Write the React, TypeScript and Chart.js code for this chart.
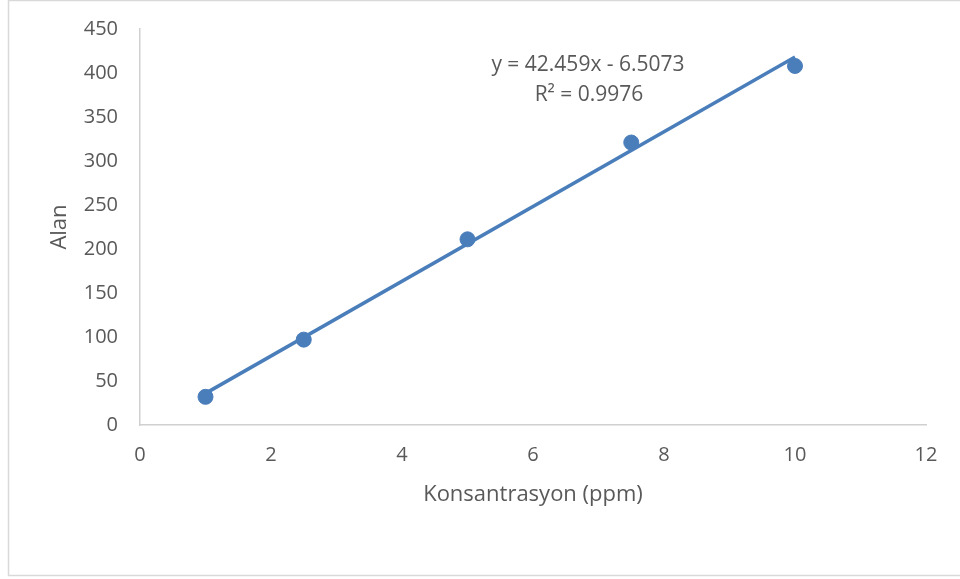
import React, { useEffect, useRef } from "react";
import { Chart, registerables } from "chart.js";

Chart.register(...registerables);

const concentrations = [1, 2.5, 5, 7.5, 10];
const areas = [32, 97, 211, 321, 408];
const trendX = [1, 10];
const trendY = [35.95, 418.08];
const equationLines = ["y = 42.459x - 6.5073", "R² = 0.9976"];
const xTitle = "Konsantrasyon (ppm)";
const yTitle = "Alan";

const FONT = "'Open Sans', 'Liberation Sans', sans-serif";
const TEXT = "#595959";
const BLUE = "#4a7ebb";

const overlay = {
  id: "overlay",
  beforeDraw(chart: any) {
    const { ctx } = chart;
    ctx.save();
    ctx.fillStyle = "#ffffff";
    ctx.fillRect(0, 0, chart.width, chart.height);
    ctx.strokeStyle = "#d9d9d9";
    ctx.lineWidth = 1.5;
    ctx.strokeRect(8.5, 0.5, chart.width + 10, 575);
    ctx.restore();
  },
  afterDraw(chart: any) {
    const { ctx, chartArea } = chart;
    ctx.save();
    ctx.fillStyle = TEXT;
    ctx.font = `22px ${FONT}`;
    ctx.textAlign = "center";
    ctx.textBaseline = "middle";
    ctx.fillText(xTitle, (chartArea.left + chartArea.right) / 2, 495);
    ctx.save();
    ctx.translate(60, (chartArea.top + chartArea.bottom) / 2);
    ctx.rotate(-Math.PI / 2);
    ctx.fillText(yTitle, 0, 0);
    ctx.restore();
    ctx.font = `21px ${FONT}`;
    ctx.fillText(equationLines[0], 588, 65);
    ctx.fillText(equationLines[1], 589, 95);
    ctx.restore();
  },
};

export default function App() {
  const ref = useRef<HTMLCanvasElement>(null);
  useEffect(() => {
    document.body.style.margin = "0";
    const chart = new Chart(ref.current!, {
      type: "scatter",
      data: {
        datasets: [
          {
            type: "line",
            label: "Trend",
            data: trendX.map((x, i) => ({ x, y: trendY[i] })),
            borderColor: BLUE,
            borderWidth: 3.5,
            pointRadius: 0,
            fill: false,
          },
          {
            label: "Alan",
            data: concentrations.map((x, i) => ({ x, y: areas[i] })),
            backgroundColor: BLUE,
            borderColor: BLUE,
            pointRadius: 7.5,
            pointHoverRadius: 7.5,
          },
        ],
      },
      options: {
        animation: false,
        responsive: false,
        layout: { padding: { top: 29, right: 34, left: 0, bottom: 0 } },
        plugins: { legend: { display: false }, tooltip: { enabled: false } },
        scales: {
          x: {
            type: "linear",
            min: 0,
            max: 12,
            ticks: { stepSize: 2, color: TEXT, font: { family: FONT, size: 20 }, padding: 18 },
            grid: { display: false, drawTicks: false },
            border: { display: true, color: "#d0d0d0", width: 1.5 },
            afterFit: (s: any) => {
              s.height = 154;
              s.paddingLeft = 0;
              s.paddingRight = 0;
            },
          },
          y: {
            min: 0,
            max: 450,
            ticks: { stepSize: 50, color: TEXT, font: { family: FONT, size: 20 }, padding: 22 },
            grid: { display: false, drawTicks: false },
            border: { display: true, color: "#d0d0d0", width: 1.5 },
            afterFit: (s: any) => {
              s.width = 140;
              s.paddingTop = 0;
              s.paddingBottom = 0;
            },
          },
        },
      },
      plugins: [overlay],
    });
    return () => chart.destroy();
  }, []);
  return <canvas ref={ref} width={960} height={579} style={{ display: "block" }} />;
}
